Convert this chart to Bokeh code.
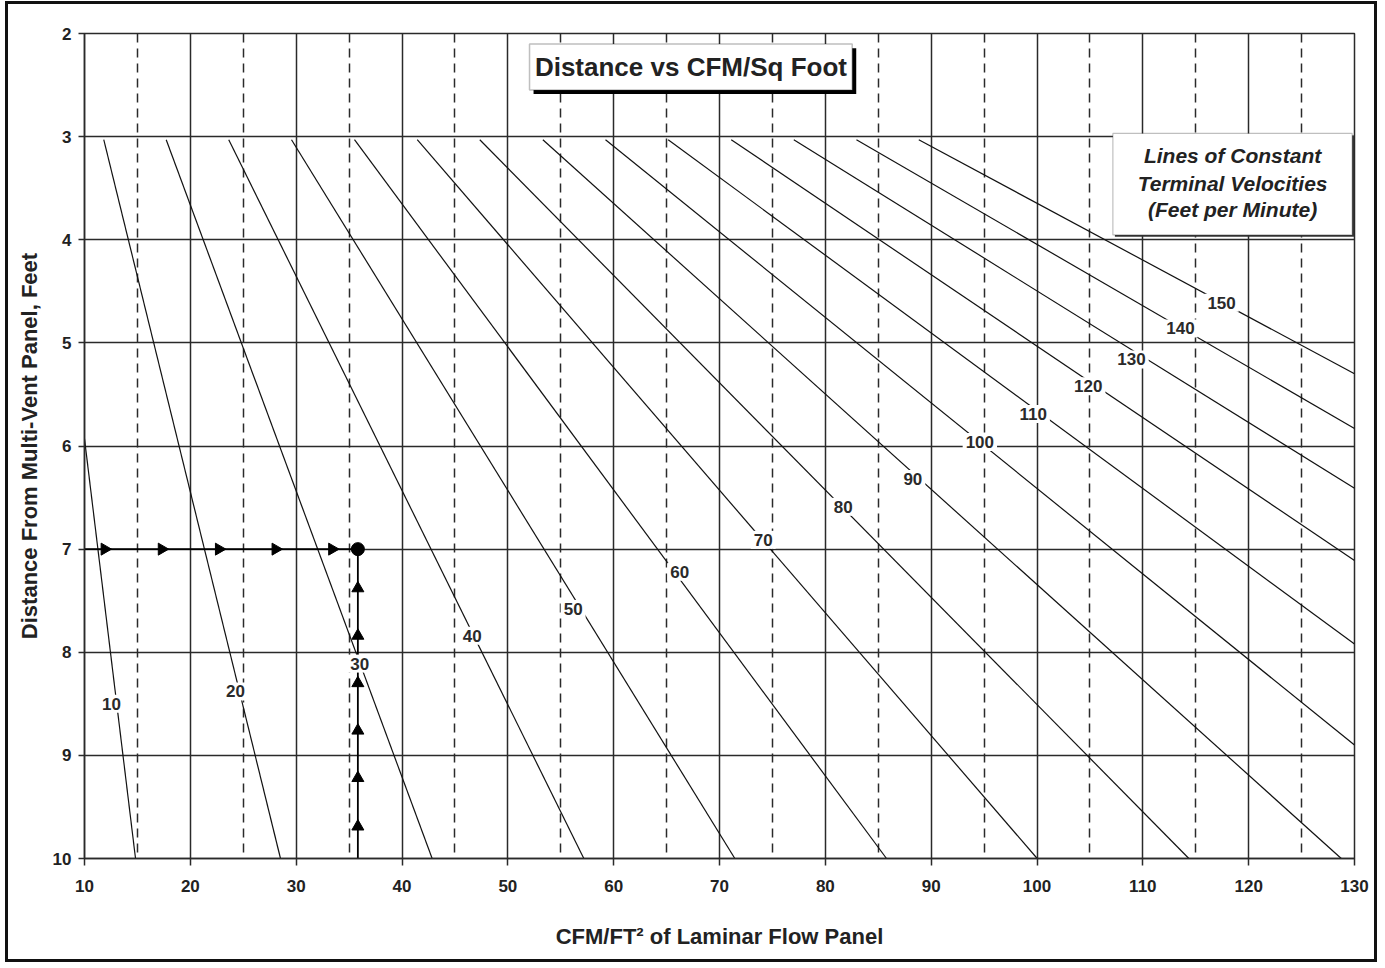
import numpy as np
from bokeh.plotting import figure
from bokeh.models import Range1d, FixedTicker, Grid, BoxAnnotation, Label, ColumnDataSource
from bokeh.core.properties import value
from bokeh.embed import file_html
from bokeh.resources import INLINE

# ---- data ----
velocities = [10, 20, 30, 40, 50, 60, 70, 80, 90, 100, 110, 120, 130, 140, 150]
line_start_x = [10.0, 11.82, 17.72, 23.63, 29.56, 35.51, 41.44, 47.35, 53.31,
                59.23, 65.15, 71.11, 77.02, 82.94, 88.83]
line_start_y = [5.93, 3.03, 3.03, 3.03, 3.03, 3.03, 3.03, 3.03, 3.03,
                3.03, 3.03, 3.03, 3.03, 3.03, 3.03]
line_end_x = [14.82, 28.52, 42.85, 57.18, 71.45, 85.78, 100.02, 114.35, 128.75,
              130.0, 130.0, 130.0, 130.0, 130.0, 130.0]
line_end_y = [10.0, 10.0, 10.0, 10.0, 10.0, 10.0, 10.0, 10.0, 10.0,
              8.90, 7.92, 7.11, 6.41, 5.83, 5.30]
label_x = [12.55, 24.27, 36.01, 46.63, 56.17, 66.25, 74.13, 81.69, 88.27,
           94.60, 99.64, 104.84, 108.93, 113.56, 117.44]
label_y = [8.50, 8.38, 8.11, 7.84, 7.58, 7.22, 6.91, 6.59, 6.32,
           5.96, 5.69, 5.42, 5.16, 4.86, 4.61]

example_cfm = 35.83
example_distance = 7.0
horiz_arrow_x = [11.9, 17.3, 22.7, 28.05, 33.4]
vert_arrow_y = [7.38, 7.84, 8.30, 8.76, 9.22, 9.69]

x_ticks = [10, 20, 30, 40, 50, 60, 70, 80, 90, 100, 110, 120, 130]
x_dashed = [15, 25, 35, 45, 55, 65, 75, 85, 95, 105, 115, 125]
y_ticks = [2, 3, 4, 5, 6, 7, 8, 9, 10]

FONT = "Liberation Sans"
DARK = "#2a2a2a"

p = figure(width=1372, height=961, output_backend="svg", toolbar_location=None,
           x_range=Range1d(x_ticks[0], x_ticks[-1]), y_range=Range1d(y_ticks[-1], y_ticks[0]),
           min_border_left=76, min_border_right=26, min_border_top=29, min_border_bottom=107)
p.styles = {"margin-left": "5px", "margin-top": "1px", "border": "3px solid #111111"}
p.background_fill_color = "white"
p.border_fill_color = "white"
p.outline_line_color = DARK
p.outline_line_width = 1.5

# axes
for ax in (p.xaxis, p.yaxis):
    ax.minor_tick_line_color = None
    ax.major_tick_in = 0
    ax.axis_line_color = DARK
    ax.axis_line_width = 1.5
    ax.major_tick_line_color = DARK
    ax.major_tick_line_width = 1.5
    ax.major_label_text_font = FONT
    ax.major_label_text_font_style = "bold"
    ax.major_label_text_font_size = "17px"
    ax.major_label_text_color = "#222222"
    ax.axis_label_text_font = FONT
    ax.axis_label_text_font_style = "bold"
    ax.axis_label_text_font_size = "22px"
    ax.axis_label_text_color = "#222222"

p.xaxis.ticker = FixedTicker(ticks=x_ticks)
p.xaxis.major_tick_out = 7
p.xaxis.major_label_standoff = 14
p.xaxis.axis_label = "CFM/FT\u00b2 of Laminar Flow Panel"
p.xaxis.axis_label_standoff = 29

p.yaxis.ticker = FixedTicker(ticks=y_ticks)
p.yaxis.major_tick_out = 6
p.yaxis.major_label_standoff = 7
p.yaxis.axis_label = "Distance From Multi-Vent Panel, Feet"
p.yaxis.axis_label_standoff = 8

# grids
p.xgrid.ticker = FixedTicker(ticks=x_ticks)
p.ygrid.ticker = FixedTicker(ticks=y_ticks)
for g in (p.xgrid, p.ygrid):
    g.grid_line_color = DARK
    g.grid_line_width = 1.5
dgrid = Grid(dimension=0, ticker=FixedTicker(ticks=x_dashed), grid_line_color=DARK,
             grid_line_width=1.5, grid_line_dash="9 6")
p.add_layout(dgrid)

# constant velocity lines
src = ColumnDataSource(dict(x0=line_start_x, y0=line_start_y, x1=line_end_x, y1=line_end_y))
p.segment(x0="x0", y0="y0", x1="x1", y1="y1", source=src, line_color="#111111", line_width=1.2)

# example path
p.segment(x0=[x_ticks[0], example_cfm], y0=[example_distance, example_distance],
          x1=[example_cfm, example_cfm], y1=[example_distance, y_ticks[-1]],
          line_color="black", line_width=1.8)
p.scatter(x=horiz_arrow_x, y=[example_distance] * len(horiz_arrow_x), marker="triangle",
          angle=-np.pi / 2, size=12, fill_color="black", line_color="black")
p.scatter(x=[example_cfm] * len(vert_arrow_y), y=vert_arrow_y, marker="triangle",
          size=12, fill_color="black", line_color="black")
p.scatter(x=[example_cfm], y=[example_distance], marker="circle", size=13,
          fill_color="black", line_color="black")

# line labels
lsrc = ColumnDataSource(dict(x=label_x, y=label_y, t=[str(v) for v in velocities]))
p.text(x="x", y="y", text="t", source=lsrc, text_font=value(FONT), text_font_style="bold",
       text_font_size="17px", text_color=DARK, text_align="center", text_baseline="middle",
       background_fill_color="white", padding=3)

# title box with shadow
p.add_layout(BoxAnnotation(left=52.43, right=82.92, top=2.142, bottom=2.587,
                           fill_color="black", fill_alpha=1.0, line_color=None))
p.add_layout(BoxAnnotation(left=52.05, right=82.54, top=2.103, bottom=2.548,
                           fill_color="white", fill_alpha=1.0, line_color=DARK, line_width=1.5))
p.add_layout(Label(x=67.30, y=2.326, text="Distance vs CFM/Sq Foot", text_font=FONT,
                   text_font_style="bold", text_font_size="26px", text_color="#222222",
                   text_align="center", text_baseline="middle"))

# legend note box
p.add_layout(BoxAnnotation(left=107.36, right=129.97, top=2.988, bottom=3.972,
                           fill_color="#333333", fill_alpha=1.0, line_color=None))
p.add_layout(BoxAnnotation(left=107.17, right=129.78, top=2.969, bottom=3.953,
                           fill_color="white", fill_alpha=1.0, line_color=DARK, line_width=1.2))
for txt, yy in zip(["Lines of Constant", "Terminal Velocities", "(Feet per Minute)"],
                   [3.185, 3.453, 3.711]):
    p.add_layout(Label(x=118.48, y=yy, text=txt, text_font=FONT,
                       text_font_style="bold italic", text_font_size="21px",
                       text_color="#222222", text_align="center", text_baseline="middle"))

open("out.html", "w").write(file_html(p, INLINE))
